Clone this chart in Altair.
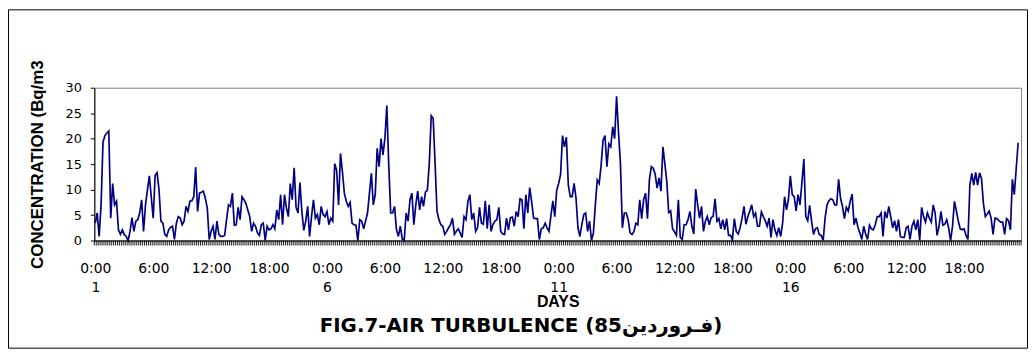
import json
import altair as alt
import pandas as pd

# Hourly radon concentration (Bq/m3), in blocks of 4 days
DAYS_01_04 = [3.4, 5.4, 0.8, 7.0, 19.3, 20.6, 21.1, 21.5, 4.4, 11.2, 7.0, 7.7, 2.1, 1.2, 2.1, 1.2, 0.8, 0.0, 1.8, 4.5,
              1.8, 3.8, 4.1, 5.4, 8.0, 1.8, 7.0, 9.9, 12.7, 8.5, 4.4, 12.8, 13.3, 10.0, 3.8, 3.4, 1.2, 0.8, 2.1, 2.6,
              2.8, 0.2, 3.4, 4.7, 4.4, 3.1, 3.8, 6.7, 5.7, 7.7, 7.8, 8.6, 14.4, 5.7, 9.3, 9.5, 9.7, 8.3, 6.4, 0.2,
              1.8, 2.8, 0.2, 3.8, 1.2, 0.8, 0.8, 1.0, 4.1, 7.0, 6.7, 9.3, 3.0, 3.1, 6.5, 4.1, 8.6, 8.0, 7.3, 6.0,
              4.7, 1.8, 3.4, 2.8, 1.5, 1.0, 3.1, 3.4, 0.0, 2.8, 2.1, 2.3, 3.1, 2.3, 6.0, 4.1]
DAYS_05_08 = [9.0, 3.1, 9.0, 6.4,
              4.7, 11.2, 8.0, 14.3, 6.5, 5.4, 11.4, 5.7, 2.0, 3.8, 6.7, 0.8, 4.7, 8.0, 4.4, 5.1, 3.1, 6.7, 5.1, 4.7,
              5.7, 3.1, 4.4, 3.8, 15.1, 13.8, 7.0, 17.1, 13.5, 9.3, 7.7, 6.7, 7.5, 3.4, 3.1, 3.0, 0.0, 4.1, 3.8, 2.3,
              3.8, 5.4, 9.3, 13.2, 7.0, 9.0, 18.1, 14.5, 20.0, 16.8, 20.0, 26.5, 14.8, 5.4, 5.4, 6.7, 2.1, 0.8, 2.8, 0.3,
              0.0, 5.4, 3.8, 8.0, 9.3, 3.1, 7.0, 9.7, 6.0, 8.6, 6.7, 9.5, 9.9, 15.1, 24.5, 24.0, 15.1, 5.7, 4.1, 3.1,
              2.8, 1.2, 1.8, 2.5, 3.1, 4.4, 1.2, 1.8, 2.3, 1.5, 0.6, 4.7]
DAYS_09_12 = [4.1, 7.7, 9.0, 4.1, 5.4, 1.8, 2.5, 6.5,
              3.4, 3.2, 7.8, 2.3, 7.0, 1.8, 3.2, 3.8, 4.1, 6.5, 1.8, 1.3, 1.2, 4.4, 2.1, 4.5, 4.6, 2.8, 5.7, 4.7,
              8.2, 8.0, 2.3, 9.0, 5.4, 10.4, 7.7, 4.4, 4.3, 4.3, 0.2, 2.3, 2.5, 3.4, 2.5, 1.8, 4.9, 7.8, 4.7, 9.9,
              11.2, 13.0, 20.6, 18.4, 20.3, 10.9, 8.6, 8.6, 11.2, 8.3, 2.5, 0.8, 3.1, 5.1, 5.4, 1.8, 3.8, 0.0, 1.5, 7.0,
              11.9, 11.2, 14.8, 19.7, 20.6, 14.5, 19.0, 18.4, 22.3, 20.0, 28.3, 21.3, 15.1, 2.5, 5.4, 5.4, 4.1, 1.5, 1.2, 1.8,
              3.4, 3.1, 8.0, 4.3, 8.0, 9.3, 4.3, 11.9]
DAYS_13_16 = [14.5, 14.2, 13.0, 10.3, 12.3, 9.7, 18.4, 15.1, 11.6, 5.5, 5.8, 2.3,
              1.7, 1.0, 8.0, 0.6, 0.2, 3.1, 3.1, 4.1, 5.7, 2.8, 1.3, 10.1, 7.0, 4.4, 6.7, 1.8, 3.8, 4.7, 3.1, 4.5,
              4.7, 8.2, 3.8, 4.3, 2.3, 4.1, 2.1, 4.3, 1.0, 1.0, 0.2, 4.3, 1.8, 1.3, 2.5, 4.4, 6.7, 3.2, 4.7, 5.8,
              7.0, 4.7, 5.4, 2.8, 2.8, 5.6, 4.7, 3.9, 2.8, 4.4, 0.6, 4.1, 2.1, 1.0, 2.5, 0.8, 3.4, 8.6, 6.0, 8.0,
              12.7, 9.0, 8.6, 5.8, 9.0, 7.0, 11.4, 16.0, 4.7, 3.9, 6.9, 3.8, 1.2, 2.3, 2.5, 1.2, 1.0, 0.0, 4.4, 7.0,
              7.8, 8.2, 8.0, 7.0]
DAYS_17_20 = [7.0, 12.0, 8.3, 6.7, 4.3, 6.5, 5.8, 7.7, 9.1, 3.1, 4.4, 2.6, 1.5, 0.2, 2.8, 1.3,
              0.2, 3.0, 2.3, 2.1, 3.1, 4.7, 4.7, 5.4, 0.8, 5.7, 4.4, 6.7, 4.7, 2.5, 3.9, 1.8, 4.1, 0.8, 0.6, 0.6,
              2.5, 2.8, 0.2, 2.8, 3.8, 2.1, 4.1, 0.0, 6.5, 4.7, 3.6, 5.4, 4.4, 3.6, 7.0, 5.4, 1.0, 2.8, 5.7, 3.0,
              3.2, 4.1, 2.5, 0.0, 2.8, 7.7, 5.8, 3.8, 2.3, 2.1, 2.3, 1.0, 0.2, 10.9, 13.2, 10.9, 13.4, 10.9, 13.3, 12.2,
              7.3, 4.7, 5.2, 5.8, 4.4, 1.2, 4.4, 4.3, 3.9, 3.6, 3.6, 1.2, 4.3, 3.9, 2.1, 12.0, 9.0, 14.2, 19.2]

TIME_LABELS = ["0:00", "6:00", "12:00", "18:00"] * 4
DAY_LABELS = ["1", "", "", "", "6", "", "", "", "11", "", "", "", "16", "", "", ""]
LABEL_STEP = 30          # hours between category labels
N_HOURS = 480            # 20 days of hourly categories
Y_TICKS = [0, 5, 10, 15, 20, 25, 30]

TITLE = "FIG.7-AIR TURBULENCE (85فـروردین)"
Y_TITLE = "CONCENTRATION (Bq/m3"
X_TITLE = "DAYS"

values = DAYS_01_04 + DAYS_05_08 + DAYS_09_12 + DAYS_13_16 + DAYS_17_20
df = pd.DataFrame({"hour": list(range(len(values))), "conc": values})
ticks_df = pd.DataFrame({"hour": [k - 0.5 for k in range(N_HOURS + 1)]})
frame_df = pd.DataFrame({"k": [0]})

W, H = 934, 154

tl = json.dumps(TIME_LABELS)
dl = json.dumps(DAY_LABELS)
idx = f"round(datum.value/{LABEL_STEP})"
label_expr = f"{dl}[{idx}] != '' ? [{tl}[{idx}], {dl}[{idx}]] : {tl}[{idx}]"

x_scale = alt.Scale(domain=[-0.5, N_HOURS - 0.5], nice=False, zero=False)
x_axis = alt.Axis(
    values=[k * LABEL_STEP for k in range(len(TIME_LABELS))],
    labelExpr=label_expr, ticks=False, grid=False,
    domainColor="black", domainWidth=1,
    labelFont="DejaVu Sans", labelFontSize=14, labelColor="black",
    labelPadding=21, labelLineHeight=19, labelAngle=0,
    labelOverlap=False, labelFlush=False,
    title=X_TITLE, titleFont="Liberation Sans", titleFontWeight="bold",
    titleFontSize=16, titleColor="black",
    titleX=W / 2, titleY=66, titleAlign="center", titleBaseline="alphabetic",
)
y_axis = alt.Axis(
    values=Y_TICKS, grid=False, tickSize=4, tickColor="black",
    domainColor="black", labelFont="DejaVu Sans", labelFontSize=13,
    labelColor="black", labelPadding=9,
    title=Y_TITLE, titleFont="Liberation Sans", titleFontWeight="bold",
    titleFontSize=17, titleColor="black", titleAngle=270,
    titleX=-52, titleY=H / 2, titleAlign="center", titleBaseline="alphabetic",
)

line = alt.Chart(df).mark_line(color="#000080", strokeWidth=1.7).encode(
    x=alt.X("hour:Q", scale=x_scale, axis=x_axis),
    y=alt.Y("conc:Q", scale=alt.Scale(domain=[0, 30], nice=False), axis=y_axis),
)

cat_ticks = alt.Chart(ticks_df).mark_rule(color="black", strokeWidth=0.9).encode(
    x=alt.X("hour:Q", scale=x_scale, axis=x_axis),
    y=alt.value(H),
    y2=alt.value(H + 5),
)

frame = alt.Chart(frame_df).mark_rect(fill=None, stroke="black", strokeWidth=1).encode(
    x=alt.value(-86.5), x2=alt.value(W + 6.5),
    y=alt.value(-78.5), y2=alt.value(H + 108.5),
)

chart = alt.layer(line, cat_ticks, frame).properties(
    width=W, height=H,
    padding={"left": 87, "top": 79, "right": 7, "bottom": 110},
    autosize=alt.AutoSizeParams(type="none"),
    title=alt.TitleParams(
        text=TITLE, orient="bottom", frame="group", anchor="middle",
        offset=-17, dx=-37, baseline="alphabetic",
        font="DejaVu Sans", fontSize=20, fontWeight="bold", color="black",
    ),
).configure(background="white").configure_view(stroke="#808080", strokeWidth=1)

chart.save("out.html", embed_options={"renderer": "svg", "actions": False})
